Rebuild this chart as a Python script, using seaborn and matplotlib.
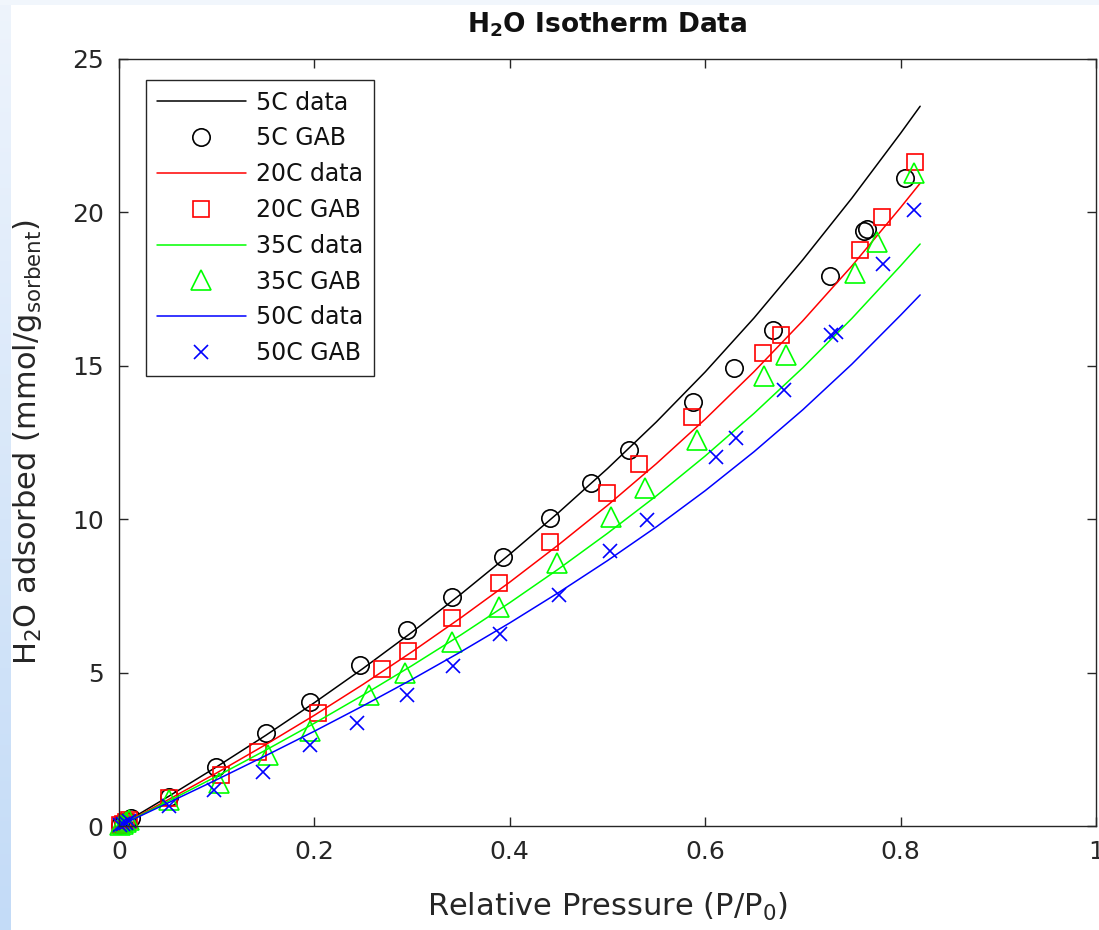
import numpy as np
import matplotlib
matplotlib.use("Agg")
import matplotlib.pyplot as plt
import seaborn as sns

# fitted "data" curves
curve_x = [0.0, 0.05, 0.1, 0.15, 0.2, 0.25, 0.3, 0.35, 0.4, 0.45, 0.5,
           0.55, 0.6, 0.65, 0.7, 0.75, 0.8, 0.82]
data_5c = [0.0, 0.95, 1.93, 2.95, 4.02, 5.14, 6.32, 7.56, 8.86, 10.22, 11.65,
           13.17, 14.80, 16.56, 18.46, 20.46, 22.58, 23.46]
data_20c = [0.0, 0.85, 1.73, 2.65, 3.61, 4.62, 5.68, 6.79, 7.95, 9.17, 10.45,
            11.81, 13.26, 14.81, 16.47, 18.25, 20.16, 20.95]
data_35c = [0.0, 0.8, 1.62, 2.47, 3.35, 4.27, 5.23, 6.23, 7.28, 8.38, 9.54,
            10.76, 12.06, 13.45, 14.94, 16.54, 18.26, 18.97]
data_50c = [0.0, 0.75, 1.51, 2.29, 3.09, 3.92, 4.78, 5.68, 6.62, 7.61, 8.65,
            9.75, 10.93, 12.20, 13.57, 15.05, 16.65, 17.31]

# GAB points
gab_5c_x = [0.001, 0.004, 0.008, 0.012, 0.051, 0.099, 0.150, 0.196, 0.247, 0.295, 0.341,
            0.393, 0.441, 0.483, 0.522, 0.588, 0.629, 0.669, 0.728, 0.763, 0.766, 0.805]
gab_5c_y = [0.02, 0.08, 0.16, 0.25, 0.95, 1.92, 3.03, 4.04, 5.25, 6.39, 7.46,
            8.77, 10.04, 11.18, 12.25, 13.82, 14.93, 16.17, 17.93, 19.4, 19.45, 21.12]
gab_20c_x = [0.001, 0.004, 0.007, 0.010, 0.051, 0.104, 0.142, 0.204, 0.269, 0.296, 0.341,
             0.389, 0.441, 0.499, 0.532, 0.586, 0.659, 0.678, 0.758, 0.781, 0.815]
gab_20c_y = [0.02, 0.07, 0.13, 0.2, 0.91, 1.66, 2.41, 3.68, 5.12, 5.7, 6.78,
             7.92, 9.26, 10.85, 11.8, 13.33, 15.42, 16.0, 18.77, 19.85, 21.64]
gab_35c_x = [0.001, 0.004, 0.007, 0.010, 0.051, 0.102, 0.153, 0.195, 0.256, 0.293, 0.341,
             0.389, 0.448, 0.504, 0.538, 0.592, 0.660, 0.683, 0.753, 0.776, 0.814]
gab_35c_y = [0.02, 0.07, 0.12, 0.18, 0.85, 1.4, 2.3, 3.1, 4.27, 4.99, 6.0,
             7.14, 8.57, 10.07, 11.02, 12.58, 14.67, 15.35, 18.02, 19.04, 21.28]
gab_50c_x = [0.001, 0.004, 0.007, 0.010, 0.051, 0.097, 0.147, 0.196, 0.244, 0.295, 0.342,
             0.390, 0.450, 0.503, 0.540, 0.611, 0.632, 0.681, 0.729, 0.734, 0.782, 0.814]
gab_50c_y = [0.02, 0.06, 0.11, 0.16, 0.65, 1.17, 1.76, 2.65, 3.36, 4.27, 5.22,
             6.26, 7.53, 8.96, 9.97, 12.03, 12.65, 14.21, 16.0, 16.1, 18.32, 20.08]

x_ticks = [0, 0.2, 0.4, 0.6, 0.8, 1]
x_tick_labels = ["0", "0.2", "0.4", "0.6", "0.8", "1"]
y_ticks = [0, 5, 10, 15, 20, 25]

sns.set_theme(style="white")
plt.rcParams["font.family"] = ["DejaVu Sans"]
plt.rcParams["mathtext.default"] = "regular"

W, H = 1099, 930
fig = plt.figure(figsize=(W / 100, H / 100), dpi=100)
fig.patch.set_facecolor("white")

# light blue window edge (left and top strips)
strip = fig.add_axes([0, 0, 11 / W, 1])
grad = np.linspace(0, 1, 256).reshape(-1, 1)
cmap = matplotlib.colors.LinearSegmentedColormap.from_list("edge", ["#eef4fc", "#c3dbf7"])
strip.imshow(grad, aspect="auto", cmap=cmap, extent=[0, 1, 0, 1], origin="upper")
strip.axis("off")
top = fig.add_axes([0, 1 - 5 / H, 1, 5 / H])
top.set_facecolor("#f1f6fc")
top.set_xticks([])
top.set_yticks([])
for s in top.spines.values():
    s.set_visible(False)

ax = fig.add_axes([119 / W, 1 - 826 / H, (1096 - 119) / W, (826 - 59) / H])

dark = "#262626"
series = [
    ("5C", data_5c, gab_5c_x, gab_5c_y, "#000000", "o", 12.5),
    ("20C", data_20c, gab_20c_x, gab_20c_y, "#ff0000", "s", 11),
    ("35C", data_35c, gab_35c_x, gab_35c_y, "#00ff00", "^", 14),
    ("50C", data_50c, gab_50c_x, gab_50c_y, "#0000ff", "x", 10),
]

handles = []
for name, ys, gx, gy, col, mk, ms in series:
    sns.lineplot(x=curve_x, y=ys, ax=ax, color=col, linewidth=1.1,
                 sort=False, estimator=None, label=f"{name} data")
    handles.append(ax.lines[-1])
    sns.lineplot(x=gx, y=gy, ax=ax, color=col, linestyle="", marker=mk,
                 markersize=ms, markerfacecolor="none", markeredgecolor=col,
                 markeredgewidth=1.2, sort=False, estimator=None,
                 label=f"{name} GAB", clip_on=False)
    handles.append(ax.lines[-1])

ax.set_xlim(0, 1)
ax.set_ylim(0, 25)
ax.set_xticks(x_ticks)
ax.set_xticklabels(x_tick_labels)
ax.set_yticks(y_ticks)
ax.tick_params(direction="in", length=6.5, width=1.0, colors=dark,
               labelsize=18, top=True, right=True, bottom=True, left=True)
ax.tick_params(axis="x", pad=10)
ax.tick_params(axis="y", pad=11)
for s in ax.spines.values():
    s.set_color(dark)
    s.set_linewidth(1.0)

ax.set_xlabel("Relative Pressure (P/P$_0$)", fontsize=22, color=dark)
ax.set_ylabel("H$_2$O adsorbed (mmol/g$_{sorbent}$)", fontsize=22, color=dark)
ax.xaxis.set_label_coords(0.5, -0.084)
ax.yaxis.set_label_coords(-0.077, 0.5)
ax.set_title("H$_2$O Isotherm Data", fontsize=19, fontweight="bold", pad=19, color="#111111")

leg = ax.legend(handles=handles, labels=[h.get_label() for h in handles],
                loc="upper left", bbox_to_anchor=(146 / W, 1 - 80 / H),
                bbox_transform=fig.transFigure, borderaxespad=0,
                fontsize=17, handlelength=3.8, handletextpad=0.4,
                labelspacing=0.5, borderpad=0.45, fancybox=False,
                framealpha=1, edgecolor=dark)
leg.get_frame().set_linewidth(1.0)
for t in leg.get_texts():
    t.set_color("#111111")

fig.savefig("out.png", dpi=100)
